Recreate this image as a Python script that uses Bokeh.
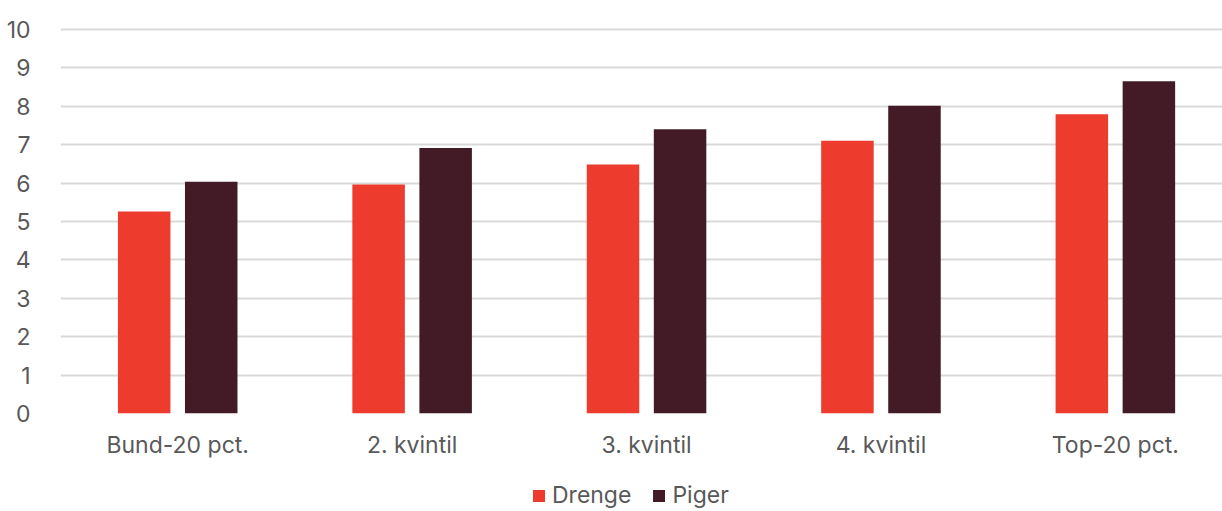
from bokeh.plotting import figure
from bokeh.layouts import column
from bokeh.models import Range1d, FixedTicker, Legend, LegendItem
from bokeh.embed import file_html
from bokeh.resources import INLINE
import numpy as np

categories = ["Bund-20 pct.", "2. kvintil", "3. kvintil", "4. kvintil", "Top-20 pct."]
drenge = [5.26, 5.96, 6.48, 7.10, 7.79]
piger = [6.03, 6.91, 7.40, 8.01, 8.65]
series_names = ["Drenge", "Piger"]
y_ticks = [0, 1, 2, 3, 4, 5, 6, 7, 8, 9, 10]

RED = "#ED3B2E"
DARK = "#421B26"
TEXT = "#595959"
FONT = "Inter"
FSIZE = "23px"

xpos = np.arange(len(categories))
bar_w = 0.224
offset = 0.143

# main chart
p = figure(width=1222, height=480, output_backend="svg", toolbar_location=None,
           x_range=Range1d(-0.5, 4.457), y_range=Range1d(0, 10.23))
p.min_border_left = 60
p.min_border_right = 0
p.min_border_top = 20
p.min_border_bottom = 67
p.outline_line_color = None

p.vbar(x=xpos - offset, top=drenge, width=bar_w, color=RED, line_color=None)
p.vbar(x=xpos + offset, top=piger, width=bar_w, color=DARK, line_color=None)

p.xgrid.grid_line_color = None
p.ygrid.grid_line_color = "#d9d9d9"
p.ygrid.grid_line_width = 2
p.yaxis.ticker = FixedTicker(ticks=y_ticks)
p.xaxis.ticker = FixedTicker(ticks=list(xpos))
p.xaxis.major_label_overrides = {int(i): c for i, c in zip(xpos, categories)}

for ax in (p.xaxis[0], p.yaxis[0]):
    ax.axis_line_color = None
    ax.major_tick_line_color = None
    ax.minor_tick_line_color = None
    ax.major_label_text_font = FONT
    ax.major_label_text_font_size = FSIZE
    ax.major_label_text_color = TEXT
p.yaxis.major_label_standoff = 24
p.xaxis.major_label_standoff = 11

# legend strip below the chart; its keys are zero-height bars
lg = figure(width=1222, height=31, output_backend="svg", toolbar_location=None,
            x_range=Range1d(0, 1), y_range=Range1d(0, 1), min_border=0)
lg.outline_line_color = None
lg.axis.visible = False
lg.grid.visible = False
k1 = lg.vbar(x=[0.5], top=[0], width=0, color=RED, line_color=None)
k2 = lg.vbar(x=[0.5], top=[0], width=0, color=DARK, line_color=None)
legend = Legend(items=[LegendItem(label=series_names[0], renderers=[k1]),
                       LegendItem(label=series_names[1], renderers=[k2])],
                orientation="horizontal", location=(471, 2),
                label_text_font=FONT, label_text_font_size=FSIZE,
                label_text_color=TEXT, glyph_width=15, glyph_height=15,
                label_standoff=6, spacing=20, padding=0, margin=0,
                border_line_color=None, background_fill_alpha=0)
lg.add_layout(legend)

open("out.html", "w").write(file_html(column(p, lg, spacing=0), INLINE))
